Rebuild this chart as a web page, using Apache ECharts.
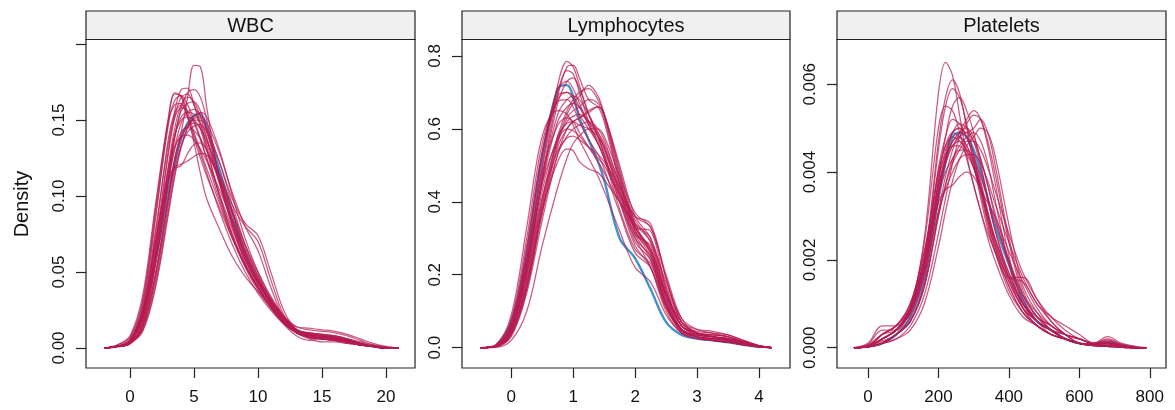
<!DOCTYPE html>
<html>
<head>
<meta charset="utf-8">
<script src="https://cdn.jsdelivr.net/npm/echarts@6/dist/echarts.min.js"></script>
<style>
html,body{margin:0;padding:0;background:#fff;}
#chart{width:1175px;height:410px;}
</style>
</head>
<body>
<div id="chart"></div>
<script>
// ---------- data ----------
const panelTitles = ['WBC', 'Lymphocytes', 'Platelets'];

const wbcX = [-2,-1,0,1,2,3,3.5,4,4.5,5,5.5,6,7,8,9,10,11,12,13,14,15,16,17,18,19,20,21];
const wbcObserved = [null,0.001,0.004,0.024,0.058,0.103,0.122,0.138,0.148,0.153,0.154,0.145,0.117,0.089,0.062,0.044,0.030,0.020,0.012,0.009,0.008,0.007,0.005,0.003,0.001,0.0002,null];
const wbcImputed = [
  [0,0.001,0.003,0.014,0.048,0.098,0.125,0.142,0.165,0.186,0.185,0.158,0.110,0.082,0.058,0.041,0.027,0.017,0.011,0.008,0.007,0.006,0.004,0.002,0.001,0,0],
  [0,0.001,0.004,0.022,0.070,0.130,0.156,0.170,0.171,0.160,0.145,0.130,0.100,0.075,0.055,0.040,0.027,0.017,0.010,0.008,0.007,0.006,0.004,0.002,0.001,0,0],
  [0,0.001,0.005,0.028,0.085,0.150,0.167,0.166,0.155,0.142,0.130,0.118,0.095,0.072,0.053,0.038,0.026,0.016,0.010,0.007,0.006,0.005,0.004,0.002,0.001,0,0],
  [0,0.001,0.003,0.016,0.055,0.110,0.138,0.158,0.168,0.170,0.165,0.150,0.112,0.080,0.056,0.040,0.027,0.017,0.011,0.009,0.008,0.007,0.005,0.003,0.001,0,0],
  [0,0.001,0.004,0.020,0.062,0.120,0.145,0.160,0.165,0.162,0.152,0.138,0.108,0.080,0.058,0.043,0.029,0.018,0.011,0.009,0.008,0.007,0.005,0.003,0.001,0,0],
  [0,0.001,0.004,0.024,0.075,0.138,0.155,0.160,0.152,0.135,0.115,0.098,0.078,0.060,0.047,0.037,0.027,0.017,0.011,0.010,0.009,0.008,0.006,0.003,0.001,0,0],
  [0,0.001,0.005,0.025,0.072,0.112,0.119,0.121,0.123,0.126,0.128,0.127,0.112,0.090,0.066,0.047,0.031,0.019,0.011,0.008,0.007,0.006,0.004,0.002,0.001,0,0],
  [0,0.001,0.003,0.015,0.050,0.100,0.125,0.140,0.147,0.148,0.145,0.136,0.115,0.094,0.080,0.070,0.045,0.022,0.011,0.008,0.007,0.006,0.004,0.002,0.001,0,0],
  [0,0.001,0.003,0.012,0.042,0.090,0.115,0.133,0.145,0.151,0.152,0.148,0.128,0.102,0.080,0.064,0.040,0.020,0.010,0.007,0.006,0.005,0.004,0.002,0.001,0,0],
  [0,0.001,0.004,0.020,0.060,0.112,0.131,0.142,0.145,0.143,0.138,0.130,0.110,0.088,0.064,0.045,0.030,0.019,0.012,0.010,0.009,0.008,0.006,0.004,0.002,0.0005,0],
  [0,0.002,0.008,0.035,0.095,0.150,0.160,0.161,0.152,0.140,0.128,0.115,0.090,0.068,0.050,0.036,0.025,0.016,0.010,0.007,0.006,0.005,0.004,0.002,0.001,0,0],
  [0,0.001,0.003,0.017,0.056,0.108,0.132,0.148,0.155,0.157,0.153,0.142,0.112,0.084,0.060,0.043,0.030,0.020,0.012,0.009,0.008,0.007,0.005,0.003,0.001,0,0],
  [0,0.001,0.004,0.022,0.068,0.110,0.118,0.120,0.128,0.134,0.135,0.130,0.113,0.090,0.068,0.050,0.034,0.021,0.012,0.009,0.008,0.007,0.005,0.003,0.001,0,0],
  [0,0.001,0.004,0.020,0.065,0.128,0.152,0.165,0.167,0.160,0.148,0.132,0.100,0.074,0.054,0.040,0.028,0.018,0.010,0.006,0.004,0.004,0.003,0.002,0.001,0,0],
  [0,0.001,0.003,0.014,0.048,0.098,0.122,0.138,0.146,0.150,0.150,0.145,0.122,0.094,0.068,0.048,0.032,0.021,0.014,0.012,0.011,0.010,0.008,0.005,0.002,0.0005,0],
  [0,0.001,0.004,0.019,0.060,0.115,0.140,0.152,0.155,0.154,0.148,0.138,0.110,0.084,0.061,0.045,0.031,0.020,0.012,0.009,0.008,0.007,0.005,0.003,0.001,0,0],
  [0,0.002,0.007,0.032,0.092,0.152,0.168,0.165,0.152,0.138,0.125,0.113,0.092,0.072,0.055,0.040,0.027,0.017,0.010,0.007,0.006,0.005,0.004,0.002,0.001,0,0],
  [0,0.001,0.005,0.026,0.078,0.135,0.152,0.158,0.156,0.148,0.137,0.125,0.101,0.078,0.058,0.042,0.029,0.018,0.011,0.008,0.007,0.006,0.004,0.002,0.001,0,0],
  [0,0.001,0.003,0.013,0.045,0.094,0.118,0.133,0.142,0.146,0.147,0.142,0.122,0.098,0.082,0.074,0.050,0.025,0.012,0.008,0.007,0.006,0.004,0.002,0.001,0,0],
  [0,0.001,0.003,0.017,0.057,0.112,0.140,0.156,0.161,0.162,0.156,0.144,0.113,0.085,0.062,0.045,0.030,0.019,0.012,0.010,0.009,0.008,0.006,0.003,0.001,0,0],
  [0,0.001,0.005,0.024,0.070,0.118,0.133,0.139,0.140,0.137,0.131,0.123,0.104,0.084,0.064,0.047,0.032,0.021,0.014,0.013,0.012,0.011,0.009,0.006,0.003,0.001,0],
  [0,0.001,0.003,0.011,0.040,0.088,0.113,0.132,0.145,0.152,0.155,0.152,0.130,0.100,0.072,0.050,0.033,0.021,0.012,0.008,0.006,0.005,0.003,0.002,0.001,0,0],
  [0,0.001,0.006,0.030,0.088,0.147,0.163,0.166,0.160,0.150,0.138,0.124,0.097,0.073,0.054,0.039,0.027,0.017,0.010,0.007,0.006,0.005,0.004,0.002,0.001,0,0],
  [0,0.001,0.004,0.021,0.064,0.118,0.140,0.150,0.152,0.150,0.144,0.134,0.108,0.082,0.060,0.044,0.029,0.016,0.008,0.005,0.006,0.006,0.005,0.003,0.001,0,0]
];

const lymX = [-0.5,-0.25,0,0.25,0.5,0.75,0.9,1.0,1.1,1.25,1.4,1.5,1.75,2.0,2.25,2.5,2.75,3.0,3.25,3.5,3.75,4.0,4.2];
const lymObserved = [null,0.002,0.07,0.25,0.52,0.71,0.72,0.69,0.63,0.57,0.51,0.46,0.30,0.245,0.16,0.07,0.035,0.025,0.02,0.015,0.008,0.002,null];
const lymImputed = [
  [0,0.005,0.06,0.24,0.50,0.72,0.785,0.77,0.72,0.64,0.58,0.53,0.40,0.30,0.22,0.10,0.04,0.03,0.025,0.02,0.01,0.003,0],
  [0,0.004,0.05,0.22,0.47,0.69,0.77,0.775,0.74,0.68,0.66,0.62,0.45,0.32,0.25,0.12,0.05,0.035,0.03,0.022,0.012,0.004,0],
  [0,0.003,0.04,0.18,0.40,0.58,0.65,0.68,0.70,0.71,0.68,0.64,0.48,0.33,0.27,0.14,0.06,0.04,0.035,0.03,0.015,0.005,0],
  [0,0.002,0.03,0.15,0.35,0.53,0.60,0.62,0.63,0.645,0.66,0.64,0.50,0.36,0.30,0.16,0.06,0.04,0.03,0.02,0.01,0.003,0],
  [0,0.003,0.04,0.18,0.38,0.51,0.545,0.54,0.51,0.49,0.48,0.46,0.40,0.33,0.27,0.15,0.07,0.05,0.045,0.035,0.02,0.005,0],
  [0,0.006,0.07,0.28,0.54,0.69,0.70,0.68,0.64,0.60,0.56,0.52,0.40,0.28,0.22,0.11,0.05,0.03,0.02,0.015,0.008,0.002,0],
  [0,0.004,0.05,0.21,0.45,0.62,0.66,0.67,0.66,0.62,0.58,0.55,0.43,0.31,0.28,0.14,0.05,0.03,0.025,0.02,0.012,0.004,0],
  [0,0.001,0.02,0.10,0.28,0.44,0.52,0.56,0.58,0.60,0.60,0.58,0.47,0.37,0.33,0.20,0.08,0.04,0.03,0.025,0.015,0.005,0],
  [0,0.005,0.06,0.24,0.48,0.61,0.63,0.62,0.59,0.55,0.51,0.48,0.40,0.34,0.30,0.17,0.07,0.04,0.03,0.02,0.01,0.003,0],
  [0,0.005,0.06,0.26,0.53,0.71,0.73,0.71,0.67,0.61,0.56,0.52,0.38,0.27,0.23,0.12,0.04,0.025,0.02,0.015,0.01,0.003,0],
  [0,0.003,0.035,0.16,0.38,0.56,0.63,0.65,0.66,0.68,0.67,0.63,0.46,0.33,0.26,0.13,0.05,0.035,0.03,0.025,0.015,0.005,0],
  [0,0.004,0.05,0.20,0.41,0.54,0.575,0.58,0.57,0.55,0.53,0.51,0.44,0.35,0.29,0.18,0.08,0.05,0.04,0.03,0.015,0.004,0],
  [0,0.008,0.09,0.33,0.58,0.65,0.64,0.61,0.57,0.52,0.47,0.43,0.32,0.22,0.18,0.09,0.04,0.025,0.02,0.015,0.008,0.002,0],
  [0,0.004,0.055,0.23,0.49,0.70,0.76,0.75,0.70,0.62,0.56,0.52,0.42,0.31,0.24,0.11,0.045,0.03,0.025,0.02,0.01,0.003,0],
  [0,0.003,0.04,0.17,0.37,0.53,0.58,0.60,0.61,0.62,0.60,0.57,0.45,0.36,0.33,0.19,0.07,0.04,0.035,0.03,0.015,0.005,0],
  [0,0.004,0.05,0.22,0.46,0.64,0.68,0.69,0.68,0.64,0.59,0.55,0.42,0.30,0.25,0.12,0.05,0.03,0.02,0.015,0.008,0.002,0],
  [0,0.004,0.05,0.21,0.46,0.67,0.73,0.74,0.71,0.64,0.58,0.54,0.43,0.33,0.32,0.16,0.06,0.035,0.03,0.025,0.012,0.004,0],
  [0,0.005,0.06,0.23,0.45,0.57,0.60,0.595,0.58,0.55,0.52,0.50,0.42,0.36,0.34,0.19,0.07,0.04,0.03,0.025,0.012,0.003,0],
  [0,0.003,0.035,0.16,0.37,0.55,0.60,0.62,0.63,0.65,0.66,0.64,0.49,0.34,0.26,0.14,0.06,0.04,0.035,0.03,0.018,0.006,0],
  [0,0.006,0.07,0.27,0.53,0.68,0.70,0.69,0.66,0.61,0.57,0.53,0.41,0.29,0.24,0.12,0.05,0.03,0.025,0.02,0.01,0.003,0],
  [0,0.003,0.045,0.19,0.41,0.57,0.62,0.635,0.64,0.62,0.59,0.56,0.45,0.34,0.29,0.15,0.06,0.045,0.04,0.035,0.02,0.006,0],
  [0,0.007,0.08,0.30,0.56,0.675,0.68,0.66,0.62,0.57,0.53,0.49,0.37,0.26,0.22,0.11,0.045,0.03,0.02,0.015,0.008,0.002,0],
  [0,0.004,0.05,0.20,0.43,0.58,0.615,0.62,0.61,0.60,0.58,0.55,0.44,0.32,0.27,0.15,0.06,0.035,0.03,0.025,0.012,0.004,0],
  [0,0.003,0.04,0.17,0.39,0.57,0.64,0.67,0.69,0.72,0.69,0.64,0.47,0.32,0.26,0.13,0.05,0.035,0.03,0.02,0.01,0.003,0]
];

const pltX = [-40,0,40,80,120,160,200,220,240,260,280,300,320,340,360,400,440,480,520,560,600,640,680,720,760,790];
const pltObserved = [null,0.00003,0.0001,0.0003,0.0007,0.0016,0.0034,0.0042,0.0048,0.0049,0.0048,0.0045,0.0040,0.0034,0.0028,0.0019,0.0011,0.0006,0.0004,0.0002,0.0001,0.00008,0.00012,0.00006,0,null];
const pltImputed = [
  [0,0.00003,0.0002,0.0004,0.0009,0.0025,0.0058,0.0065,0.0062,0.0053,0.0044,0.0037,0.0031,0.0026,0.0022,0.0014,0.0008,0.0005,0.0003,0.0002,0.0001,0.00005,0.00003,0.00001,0,0],
  [0,0.00003,0.0002,0.0004,0.0008,0.0020,0.0047,0.0057,0.0061,0.0058,0.0050,0.0042,0.0034,0.0027,0.0022,0.0013,0.0008,0.0005,0.0003,0.0002,0.0001,0.00006,0.00004,0.00002,0,0],
  [0,0.00002,0.00015,0.0003,0.0007,0.0017,0.0038,0.0048,0.0055,0.0057,0.0054,0.0049,0.0042,0.0034,0.0027,0.0016,0.0009,0.0006,0.0004,0.0002,0.0001,0.00008,0.00006,0.00003,0,0],
  [0,0.00002,0.0001,0.0002,0.0005,0.0012,0.0026,0.0034,0.0042,0.0048,0.0051,0.0053,0.0052,0.0047,0.0040,0.0024,0.0012,0.0007,0.0004,0.0002,0.0001,0.00006,0.00004,0.00002,0,0],
  [0,0.00002,0.0001,0.0003,0.0006,0.0015,0.0034,0.0043,0.0049,0.0050,0.0049,0.0050,0.0052,0.0049,0.0042,0.0025,0.0013,0.0007,0.0004,0.0002,0.0001,0.00007,0.00005,0.00003,0,0],
  [0,0.00003,0.0002,0.0004,0.0008,0.0018,0.0036,0.0043,0.0047,0.0049,0.0050,0.0048,0.0043,0.0037,0.0030,0.0019,0.0011,0.0006,0.0004,0.0002,0.0001,0.00008,0.00015,0.00005,0,0],
  [0,0.00004,0.0003,0.0005,0.0010,0.0020,0.0033,0.0036,0.0037,0.0039,0.0040,0.0039,0.0036,0.0033,0.0030,0.0022,0.0015,0.0009,0.0005,0.0003,0.0001,0.00008,0.0001,0.00004,0,0],
  [0,0.00003,0.0002,0.0004,0.0008,0.0019,0.0037,0.0043,0.0047,0.0048,0.0046,0.0042,0.0036,0.0029,0.0023,0.0016,0.0015,0.0010,0.0006,0.0003,0.0001,0.00006,0.00004,0.00002,0,0],
  [0,0.00004,0.0003,0.0005,0.0010,0.0022,0.0039,0.0044,0.0046,0.0046,0.0044,0.0041,0.0036,0.0030,0.0025,0.0017,0.0010,0.0006,0.0004,0.0003,0.0002,0.0001,0.0002,0.00008,0.00002,0],
  [0,0.00003,0.0002,0.0004,0.0008,0.0019,0.0041,0.0048,0.0052,0.0051,0.0048,0.0043,0.0037,0.0030,0.0024,0.0015,0.0009,0.0005,0.0003,0.0002,0.0001,0.00005,0.00003,0.00001,0,0],
  [0,0.00002,0.0001,0.0003,0.0006,0.0014,0.0030,0.0037,0.0043,0.0046,0.0048,0.0049,0.0047,0.0042,0.0034,0.0019,0.0009,0.0005,0.0003,0.0002,0.0001,0.00005,0.00003,0.00001,0,0],
  [0,0.00003,0.0002,0.0004,0.0009,0.0019,0.0035,0.0040,0.0043,0.0045,0.0045,0.0043,0.0039,0.0034,0.0029,0.0020,0.0012,0.0008,0.0005,0.0003,0.0002,0.0001,0.00012,0.00005,0,0],
  [0,0.00003,0.0002,0.0004,0.0009,0.0024,0.0050,0.0055,0.0054,0.0049,0.0043,0.0037,0.0031,0.0025,0.0020,0.0012,0.0007,0.0005,0.0003,0.0002,0.0001,0.00006,0.00004,0.00002,0,0],
  [0,0.00002,0.0001,0.0003,0.0006,0.0014,0.0030,0.0037,0.0042,0.0045,0.0047,0.0047,0.0045,0.0041,0.0036,0.0026,0.0017,0.0011,0.0007,0.0004,0.0002,0.0001,0.00008,0.00004,0,0],
  [0,0.00003,0.0002,0.0004,0.0008,0.0017,0.0036,0.0044,0.0049,0.0051,0.0050,0.0047,0.0041,0.0034,0.0027,0.0017,0.0010,0.0006,0.0004,0.0002,0.0001,0.00006,0.00004,0.00002,0,0],
  [0,0.0001,0.0005,0.0005,0.0010,0.0022,0.0040,0.0046,0.0048,0.0047,0.0045,0.0041,0.0036,0.0030,0.0024,0.0015,0.0009,0.0006,0.0004,0.0003,0.0002,0.0001,0.00025,0.0001,0.00003,0],
  [0,0.00008,0.0004,0.0004,0.0009,0.0020,0.0038,0.0045,0.0049,0.0050,0.0048,0.0044,0.0038,0.0031,0.0025,0.0016,0.0010,0.0006,0.0004,0.0002,0.0001,0.00006,0.00015,0.00005,0,0],
  [0,0.00006,0.0003,0.0004,0.0008,0.0018,0.0035,0.0042,0.0046,0.0048,0.0049,0.0047,0.0043,0.0037,0.0031,0.0020,0.0012,0.0007,0.0005,0.0003,0.0002,0.0001,0.0001,0.00004,0,0],
  [0,0.00003,0.0002,0.0004,0.0008,0.0020,0.0045,0.0055,0.0059,0.0057,0.0051,0.0044,0.0036,0.0029,0.0023,0.0014,0.0008,0.0005,0.0003,0.0002,0.0001,0.00005,0.00003,0.00001,0,0],
  [0,0.00002,0.0001,0.0002,0.0004,0.0010,0.0023,0.0031,0.0038,0.0043,0.0046,0.0048,0.0050,0.0049,0.0044,0.0028,0.0014,0.0008,0.0004,0.0002,0.0001,0.00006,0.00004,0.00002,0,0],
  [0,0.00004,0.0003,0.0005,0.0009,0.0020,0.0037,0.0042,0.0046,0.0047,0.0045,0.0041,0.0035,0.0028,0.0022,0.0016,0.0016,0.0011,0.0006,0.0003,0.0001,0.00006,0.00004,0.00002,0,0],
  [0,0.00005,0.0003,0.0005,0.0009,0.0021,0.0040,0.0046,0.0049,0.0048,0.0046,0.0042,0.0037,0.0031,0.0025,0.0016,0.0010,0.0007,0.0005,0.0003,0.0002,0.0001,0.00018,0.00006,0,0],
  [0,0.00003,0.0002,0.0004,0.0008,0.0017,0.0031,0.0036,0.0040,0.0043,0.0044,0.0044,0.0042,0.0038,0.0033,0.0024,0.0016,0.0010,0.0007,0.0005,0.0003,0.0001,0.00008,0.00004,0,0],
  [0,0.00002,0.0001,0.0003,0.0006,0.0014,0.0031,0.0039,0.0045,0.0049,0.0052,0.0054,0.0052,0.0046,0.0038,0.0021,0.0010,0.0006,0.0003,0.0002,0.0001,0.00005,0.00003,0.00001,0,0]
];

const wbcXTicks = [0,5,10,15,20];
const wbcYTicks = [0,0.05,0.10,0.15,0.20];
const wbcYLabels = [0,0.05,0.10,0.15];
const lymXTicks = [0,1,2,3,4];
const lymYTicks = [0,0.2,0.4,0.6,0.8];
const pltXTicks = [0,200,400,600,800];
const pltYTicks = [0,0.002,0.004,0.006];

// ---------- layout ----------
const FONT = '"Liberation Sans", Arial, sans-serif';
const RED = 'rgba(182,26,81,0.72)';
const BLUE = 'rgba(0,108,194,0.75)';
const panels = [
  {left:86, width:329, xMin:-3.44, xMax:22.27, yMin:-0.01316, yMax:0.2030, xs:wbcX, obs:wbcObserved, imp:wbcImputed,
   xTicks:wbcXTicks, yTicks:wbcYTicks, yLabels:wbcYLabels, dec:2},
  {left:462, width:328, xMin:-0.795, xMax:4.50, yMin:-0.0557, yMax:0.845, xs:lymX, obs:lymObserved, imp:lymImputed,
   xTicks:lymXTicks, yTicks:lymYTicks, yLabels:lymYTicks, dec:1},
  {left:837, width:329, xMin:-88, xMax:846, yMin:-0.000462, yMax:0.00702, xs:pltX, obs:pltObserved, imp:pltImputed,
   xTicks:pltXTicks, yTicks:pltYTicks, yLabels:pltYTicks, dec:3}
];
const TOP = 39.5, HEIGHT = 328.5, STRIP_TOP = 11;

const grids = [], xAxes = [], yAxes = [], series = [], graphics = [];
panels.forEach((p, i) => {
  grids.push({left:p.left, top:TOP, width:p.width, height:HEIGHT, show:true,
    borderColor:'#222', borderWidth:1.2, backgroundColor:'#fff', containLabel:false});
  xAxes.push({type:'value', gridIndex:i, min:p.xMin, max:p.xMax, position:'bottom',
    axisLine:{show:false, onZero:false}, splitLine:{show:false},
    axisTick:{show:true, inside:false, length:10, lineStyle:{color:'#222', width:1.2}, customValues:p.xTicks},
    axisLabel:{show:true, customValues:p.xTicks, margin:21, fontSize:17, color:'#111', fontFamily:FONT,
      formatter:v => String(Math.round(v))}});
  yAxes.push({type:'value', gridIndex:i, min:p.yMin, max:p.yMax, position:'left',
    axisLine:{show:false, onZero:false}, splitLine:{show:false},
    axisTick:{show:true, inside:false, length:10, lineStyle:{color:'#222', width:1.2}, customValues:p.yTicks},
    axisLabel:{show:true, customValues:p.yLabels, rotate:90, margin:18, fontSize:17, color:'#111', fontFamily:FONT,
      formatter:v => Number(v).toFixed(p.dec)}});
  series.push({type:'line', xAxisIndex:i, yAxisIndex:i, showSymbol:false, smooth:0.35, z:2,
    lineStyle:{color:BLUE, width:2.4}, data:p.xs.map((x, k) => [x, p.obs[k]])});
  p.imp.forEach(arr => {
    series.push({type:'line', xAxisIndex:i, yAxisIndex:i, showSymbol:false, smooth:0.35, z:3,
      lineStyle:{color:RED, width:1.25}, data:p.xs.map((x, k) => [x, arr[k]])});
  });
  graphics.push({type:'rect', shape:{x:p.left, y:STRIP_TOP, width:p.width, height:TOP-STRIP_TOP},
    style:{fill:'#f0f0f0', stroke:'#222', lineWidth:1.2}});
  graphics.push({type:'text', x:p.left + p.width/2, y:(STRIP_TOP+TOP)/2 + 1,
    style:{text:panelTitles[i], fontSize:20, fontFamily:FONT, fill:'#111', textAlign:'center', textVerticalAlign:'middle'}});
});
graphics.push({type:'text', x:22, y:204, rotation:Math.PI/2,
  style:{text:'Density', fontSize:20, fontFamily:FONT, fill:'#111', textAlign:'center', textVerticalAlign:'middle'}});

const chart = echarts.init(document.getElementById('chart'));
chart.setOption({
  animation:false,
  backgroundColor:'#fff',
  grid:grids, xAxis:xAxes, yAxis:yAxes, series:series, graphic:graphics
});
</script>
</body>
</html>
